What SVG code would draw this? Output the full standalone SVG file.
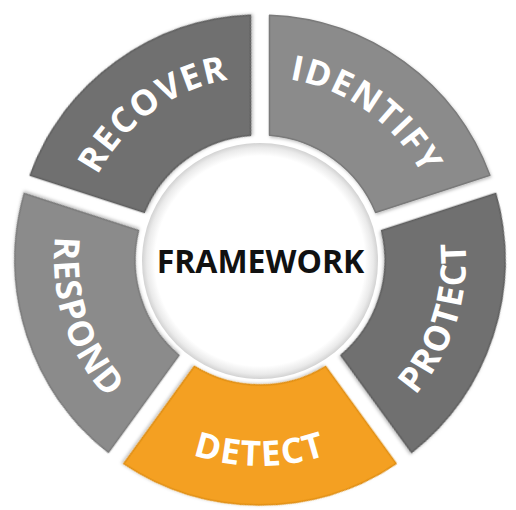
<svg xmlns="http://www.w3.org/2000/svg" xmlns:xlink="http://www.w3.org/1999/xlink" width="516" height="510" viewBox="0 0 516 510">
  <style>
    .seg { stroke-width: 1.5; stroke-linejoin: round; filter: url(#shadow); }
    .gray-dark { fill: #6f6f6f; stroke: #5f5f5f; }
    .gray-light { fill: #8b8b8b; stroke: #7a7a7a; }
    .orange { fill: #f4a020; stroke: #e08e12; }
    .label { font-family: "Open Sans", "DejaVu Sans", sans-serif; font-weight: 700; font-size: 35px; fill: #ffffff; letter-spacing: 1.5px; }
    .center-label { font-family: "Open Sans", "DejaVu Sans", sans-serif; font-weight: 700; font-size: 32px; fill: #111111; }
  </style>
  <defs>
    <filter id="shadow" x="-10%" y="-10%" width="120%" height="120%">
      <feDropShadow dx="1" dy="1.5" stdDeviation="1.5" flood-color="#000000" flood-opacity="0.25"/>
    </filter>
    <radialGradient id="disc" cx="50%" cy="50%" r="50%">
      <stop offset="0%" stop-color="#ffffff"/>
      <stop offset="89%" stop-color="#ffffff"/>
      <stop offset="96%" stop-color="#eaeaea"/>
      <stop offset="100%" stop-color="#d2d2d2"/>
    </radialGradient>
    <path id="segShape" d="M269.49 15.18 A245 245 0 0 1 489.90 175.32 L375.60 212.44 A125 125 0 0 0 269.50 135.36 Z"/>
    <path id="arcOut" d="M260 77 A183 183 0 0 1 434.04 203.45"/>
    <path id="arcIn" d="M455.92 196.34 A206 206 0 0 0 260 54"/>
  </defs>
  <rect width="516" height="510" fill="#ffffff"/>

  <g id="identify">
    <use href="#segShape" class="seg gray-light"/>
    <text class="label"><textPath href="#arcOut" startOffset="50%" text-anchor="middle">IDENTIFY</textPath></text>
  </g>
  <g id="protect" transform="rotate(72 260 260)">
    <use href="#segShape" class="seg gray-dark"/>
    <text class="label"><textPath href="#arcIn" startOffset="50%" text-anchor="middle">PROTECT</textPath></text>
  </g>
  <g id="detect" transform="rotate(144 260 260)">
    <use href="#segShape" class="seg orange"/>
    <text class="label"><textPath href="#arcIn" startOffset="50%" text-anchor="middle">DETECT</textPath></text>
  </g>
  <g id="respond" transform="rotate(216 260 260)">
    <use href="#segShape" class="seg gray-light"/>
    <text class="label"><textPath href="#arcIn" startOffset="50%" text-anchor="middle">RESPOND</textPath></text>
  </g>
  <g id="recover" transform="rotate(288 260 260)">
    <use href="#segShape" class="seg gray-dark"/>
    <text class="label"><textPath href="#arcOut" startOffset="50%" text-anchor="middle">RECOVER</textPath></text>
  </g>

  <g id="framework">
    <circle cx="260" cy="261" r="118" fill="url(#disc)"/>
    <text class="center-label" x="260.5" y="272.5" text-anchor="middle">FRAMEWORK</text>
  </g>

  <g id="connectors"/>
</svg>
